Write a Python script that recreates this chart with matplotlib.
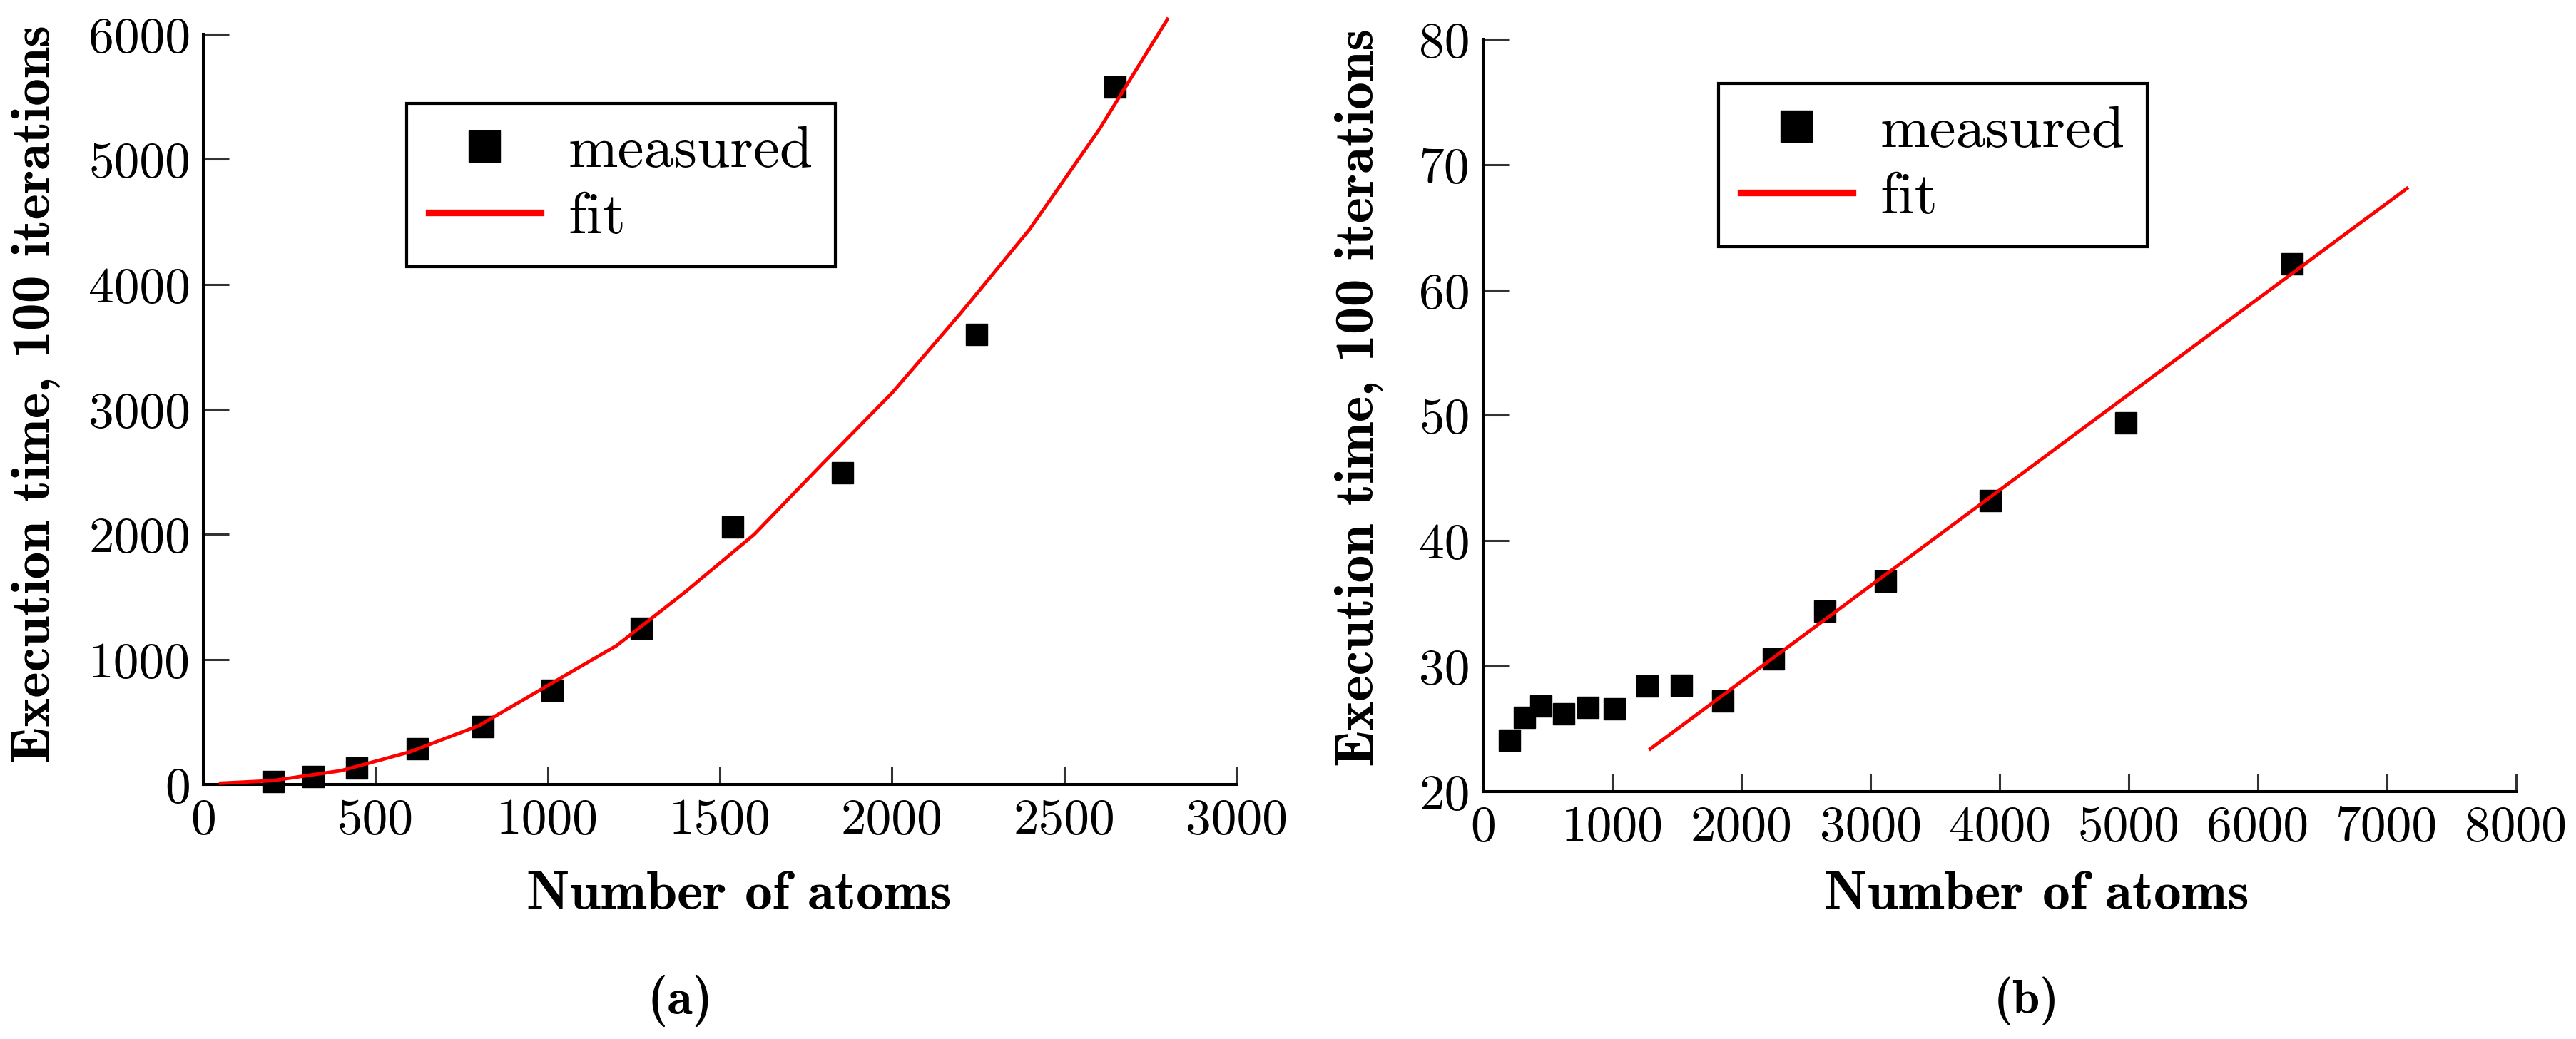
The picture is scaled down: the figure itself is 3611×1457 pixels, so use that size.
import matplotlib
matplotlib.use('Agg')
import matplotlib.pyplot as plt

# ---------------- data ----------------
atoms_a = [203, 320, 446, 622, 812, 1014, 1273, 1538, 1856, 2246, 2648]
time_a = [20, 65, 133, 285, 460, 753, 1247, 2059, 2490, 3598, 5578]
fit_atoms_a = [50, 200, 400, 600, 800, 1000, 1200, 1400, 1600, 1800, 2000,
               2200, 2400, 2600, 2800]
fit_time_a = [10, 30, 110, 260, 470, 790, 1110, 1540, 2000, 2570, 3130,
              3770, 4440, 5230, 6120]

atoms_b = [203, 320, 446, 622, 812, 1014, 1273, 1538, 1856, 2246, 2648,
           3114, 3929, 4976, 6266]
time_b = [24.1, 25.9, 26.8, 26.2, 26.7, 26.6, 28.4, 28.5, 27.2, 30.6, 34.4,
          36.8, 43.2, 49.4, 62.1]
fit_atoms_b = [1295, 7154]
fit_time_b = [23.4, 68.1]

xticks_a = [0, 500, 1000, 1500, 2000, 2500, 3000]
yticks_a = [0, 1000, 2000, 3000, 4000, 5000, 6000]
xticks_b = [0, 1000, 2000, 3000, 4000, 5000, 6000, 7000, 8000]
yticks_b = [20, 30, 40, 50, 60, 70, 80]

xlabel_text = 'Number of atoms'
ylabel_text = 'Execution time, 100 iterations'
legend_labels = ['measured', 'fit']
panel_labels = ['(a)', '(b)']

# ---------------- figure ----------------
plt.rcParams['font.family'] = ['cmr10', 'DejaVu Serif']
plt.rcParams['axes.formatter.use_mathtext'] = True

W, H = 3611, 1457
fig = plt.figure(figsize=(W / 100, H / 100), dpi=100)
fig.patch.set_facecolor('white')

ax1 = fig.add_axes([285 / W, 1 - 1100 / H, 1448 / W, 1052 / H])
ax2 = fig.add_axes([2079 / W, 1 - 1110 / H, 1448 / W, 1055 / H])


def style(ax, xt, yt):
    ax.set_xlim(xt[0], xt[-1])
    ax.set_ylim(yt[0], yt[-1])
    ax.set_xticks(xt)
    ax.set_yticks(yt)
    ax.set_xticklabels([str(v) for v in xt])
    ax.set_yticklabels([str(v) for v in yt])
    for s in ['top', 'right']:
        ax.spines[s].set_visible(False)
    for s in ['left', 'bottom']:
        ax.spines[s].set_linewidth(2.9)
        ax.spines[s].set_color('black')
    ax.tick_params(axis='x', direction='in', length=18, width=2.2,
                   color='#333333', labelsize=51.5, pad=14)
    ax.tick_params(axis='y', direction='in', length=26, width=2.2,
                   color='#333333', labelsize=51.5, pad=13)
    for lab in ax.get_xticklabels() + ax.get_yticklabels():
        lab.set_fontfamily('cmr10')


def draw(ax, x, y, fx, fy, leg_xy):
    m, = ax.plot(x, y, linestyle='none', marker='s', ms=21.5, mew=1,
                 color='black', mec='black', zorder=3,
                 label=legend_labels[0], clip_on=False)
    l, = ax.plot(fx, fy, color='#ff0000', lw=3.5, zorder=4,
                 label=legend_labels[1], clip_on=False)
    leg = ax.legend(handles=[m, l], loc='upper left', bbox_to_anchor=leg_xy,
                    borderaxespad=0, frameon=True, fancybox=False,
                    framealpha=1, edgecolor='black',
                    numpoints=1, markerscale=1.45, handlelength=1.88,
                    handletextpad=0.47, borderpad=0.37, labelspacing=0.22,
                    prop={'family': 'cmr10', 'size': 60})
    leg.get_frame().set_linewidth(3.0)
    leg.legend_handles[1].set_linewidth(6.7)
    return leg


style(ax1, xticks_a, yticks_a)
style(ax2, xticks_b, yticks_b)
draw(ax1, atoms_a, time_a, fit_atoms_a, fit_time_a,
     ((570 - 285) / 1448, (1100 - 145) / 1052))
draw(ax2, atoms_b, time_b, fit_atoms_b, fit_time_b,
     ((2409 - 2079) / 1448, (1110 - 117) / 1055))

# labels as figure texts
bold = 'cmb10'
yl1 = fig.text(51 / W, 1 - 552.5 / H, ylabel_text, rotation=90, ha='center',
               va='center', fontfamily=bold, fontsize=50)
yl2 = fig.text(1905 / W, 1 - 557.5 / H, ylabel_text, rotation=90, ha='center',
               va='center', fontfamily=bold, fontsize=50)
xl1 = fig.text(1036 / W, 1 - 1275 / H, xlabel_text, ha='center',
               va='baseline', fontfamily=bold, fontsize=50)
xl2 = fig.text(2855 / W, 1 - 1275 / H, xlabel_text, ha='center',
               va='baseline', fontfamily=bold, fontsize=50)
pa = fig.text(954 / W, 1 - 1404 / H, panel_labels[0], ha='center',
              va='center', fontfamily=bold, fontsize=50)
pb = fig.text(2841 / W, 1 - 1404 / H, panel_labels[1], ha='center',
              va='center', fontfamily=bold, fontsize=50)

# size the label fonts to the measured text extents
renderer = fig.canvas.get_renderer()


def fit(t, target, use_height=False):
    bb = t.get_window_extent(renderer)
    cur = bb.height if use_height else bb.width
    t.set_fontsize(t.get_fontsize() * target / cur)


for t in (yl1, yl2):
    fit(t, 1035, use_height=True)
for t in (xl1, xl2):
    fit(t, 596)
for t in (pa, pb):
    fit(t, 92)

fig.savefig('out.png', dpi=100, facecolor='white')
